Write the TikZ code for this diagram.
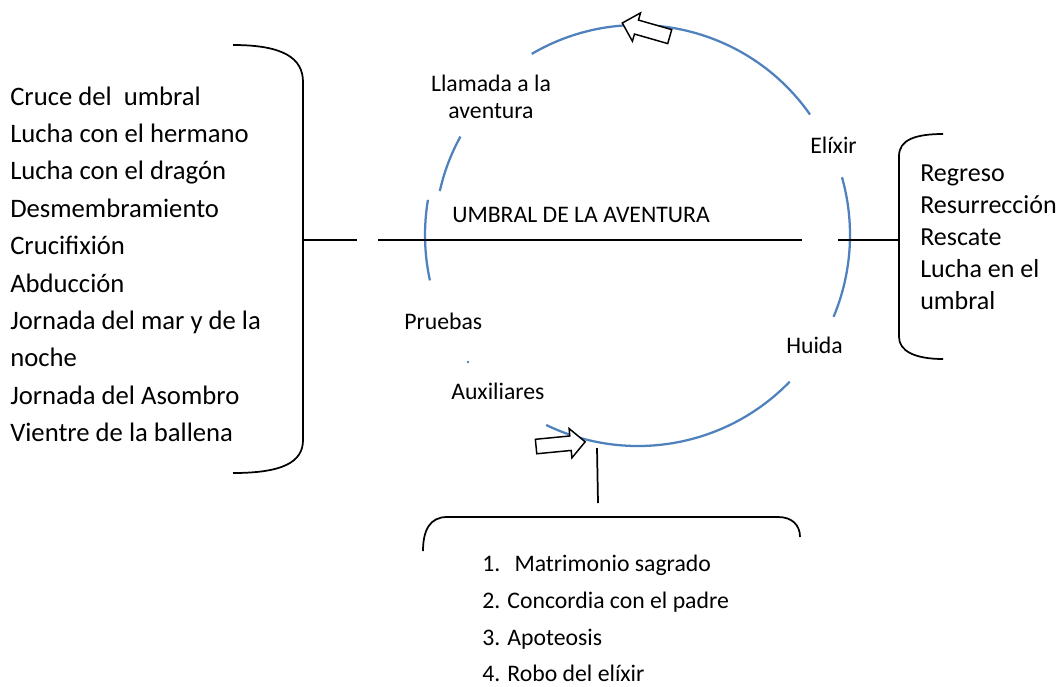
\documentclass[tikz,border=0pt]{standalone}
\usepackage{fontspec}
\setmainfont{Carlito}
\usetikzlibrary{shapes.arrows}
\definecolor{arcblue}{RGB}{79,129,189}
\tikzset{
  arcline/.style={draw=arcblue, line width=1.7pt},
  bracket/.style={draw=black, line width=1.3pt},
  hline/.style={draw=black, line width=1.3pt},
  thinline/.style={draw=black, line width=0.8pt},
  listtext/.style={anchor=base west, inner sep=0pt, align=left},
  looptext/.style={anchor=base west, inner sep=0pt, font=\fontsize{17.8}{20}\selectfont},
  blockarrow/.style={single arrow, draw, line width=1.1pt, fill=white, inner sep=0pt, inner ysep=4.9pt, minimum width=0pt, minimum height=37pt, single arrow head extend=5.6pt},
}

\begin{document}
\begin{tikzpicture}[x=0.75pt,y=0.75pt,yscale=-1,xscale=1]
\useasboundingbox (0,0) rectangle (1062,686);

\coordinate (C) at (638,235);

%Shape: loop of the journey, drawn as broken arcs
\draw[arcline] (C) ++(-120.4:210) arc[start angle=-120.4, end angle=-35, radius=210];
\draw[arcline] (C) ++(-151:203) arc[start angle=-151, end angle=-167.5, radius=203];
\draw[arcline] (C) ++(-170.5:213) arc[start angle=-170.5, end angle=-192.3, radius=213];
\draw[arcline] (C) ++(-15.8:212) arc[start angle=-15.8, end angle=22.7, radius=212];
\draw[arcline] (C) ++(44:211) arc[start angle=44, end angle=115.8, radius=211];
\fill[arcblue] (468,362) circle (1.4);

%Shape: block arrows on the loop
\node[blockarrow, rotate=164] (topArrow) at (649.5,30.8) {};
\node[blockarrow, rotate=5.5] (botArrow) at (557,444.5) {};

%Shape: threshold line
\coordinate (Lbr) at (303,240);
\coordinate (Lcut) at (357,240);
\coordinate (Uin) at (378,240);
\coordinate (Ua) at (432,240);
\coordinate (Ub) at (740,240);
\coordinate (Uout) at (802,240);
\coordinate (Rcut) at (838,240);
\coordinate (Rbr) at (899,240);
\draw[hline] (Lbr) -- (Lcut);
\draw[hline] (Uin) -- (Ua);
\draw[thinline] (Ua) -- (Ub);
\draw[hline] (Ub) -- (Uout);
\draw[hline] (Rcut) -- (Rbr);

%Shape: brackets
\draw[bracket] (233,45) .. controls (283,45) and (303,58) .. (303,82) -- (303,440) .. controls (303,462) and (283,473) .. (233,473);
\draw[bracket] (943,134) .. controls (915,134) and (899,140) .. (899,156) -- (899,337) .. controls (899,351) and (915,359) .. (943,359);
\draw[bracket] (423,551) .. controls (423,530) and (430,517) .. (447,517) -- (778,517) .. controls (792,517) and (800,525) .. (800,537);

\coordinate (Btop) at (597,448);
\coordinate (Bbr) at (598,503);
\draw[hline] (Btop) -- (Bbr);

% Text Node (anchored on the last line)
\node[listtext, font=\fontsize{20}{28.05}\selectfont] (leftList) at (10,441.7)
  {Cruce del\ \ umbral\\Lucha con el hermano\\Lucha con el dragón\\Desmembramiento\\Crucifixión\\Abducción\\Jornada del mar y de la\\noche\\Jornada del Asombro\\Vientre de la ballena};
% Text Node
\node[listtext, font=\fontsize{19.5}{23.85}\selectfont] (rightList) at (920,309)
  {Regreso\\Resurrección\\Rescate\\Lucha en el\\umbral};
% Text Node
\node[listtext, font=\fontsize{17.8}{27.5}\selectfont] (bottomList) at (482,681.7)
  {1.\hspace{0.6em}Matrimonio sagrado\\2. Concordia con el padre\\3. Apoteosis\\4. Robo del elíxir};
% Text Node
\node[anchor=base, inner sep=0pt, align=center, font=\fontsize{17.8}{20}\selectfont] (llamada) at (491,118.3) {Llamada a la\\aventura};
% Text Node
\node[looptext] (umbral) at (452,222.7) {UMBRAL DE LA AVENTURA};
% Text Node
\node[looptext] (elixir) at (810,153) {Elíxir};
% Text Node
\node[looptext] (huida) at (786,353) {Huida};
% Text Node
\node[looptext] (pruebas) at (404,329.3) {Pruebas};
% Text Node
\node[looptext] (auxiliares) at (451,399.3) {Auxiliares};

\end{tikzpicture}
\end{document}
